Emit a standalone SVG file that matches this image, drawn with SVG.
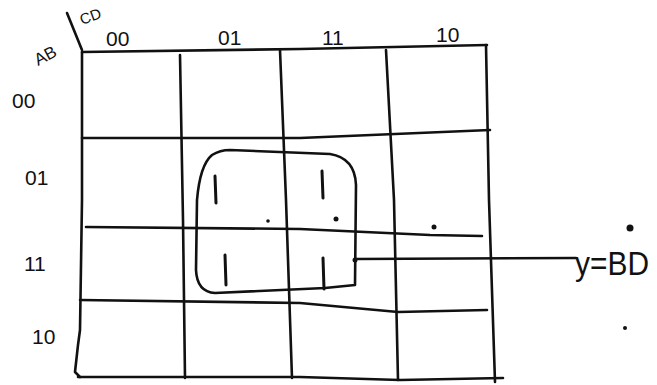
<svg xmlns="http://www.w3.org/2000/svg" width="657" height="385" viewBox="0 0 657 385">
<style>
.ln{fill:none;stroke:#111;stroke-width:2.6;stroke-linecap:round;stroke-linejoin:round}
.t{font-family:"Liberation Sans",Arial,sans-serif;fill:#111}
.h{font-size:21px}
.one{fill:none;stroke:#111;stroke-width:3;stroke-linecap:round}
.dot{fill:#111}
</style>
<rect width="657" height="385" fill="#fff"/>
<g id="grid">
<path class="ln" d="M67,13 L82,50"/>
<path class="ln" d="M82,52 L300,49 L487,45"/>
<path class="ln" d="M82,52 L82,200 L80,330 L78,345 L75,372 L80,377"/>
<path class="ln" d="M180,55 L183,220 L185,378"/>
<path class="ln" d="M280,50 L286,200 L292,378"/>
<path class="ln" d="M386,50 L394,200 L398,380"/>
<path class="ln" d="M486,45 L489,200 L495,382"/>
<path class="ln" d="M82,138 L300,138 L490,130"/>
<path class="ln" d="M86,227 L300,229 L430,235 L482,236"/>
<path class="ln" d="M80,300 L300,303 L398,312 L487,310"/>
<path class="ln" d="M78,377 L300,377 L400,380 L503,378"/>
</g>
<g id="labels">
<text class="t" font-size="15" transform="translate(82,25) rotate(-20)">CD</text>
<text class="t" font-size="17" transform="translate(38,66) rotate(-28)">AB</text>
<text class="t h" x="106" y="46">00</text>
<text class="t h" x="218" y="45">01</text>
<text class="t h" x="322" y="45">11</text>
<text class="t h" x="436" y="42">10</text>
<text class="t h" x="12" y="108">00</text>
<text class="t h" x="25" y="185">01</text>
<text class="t h" x="24" y="271">11</text>
<text class="t h" x="32" y="344">10</text>
</g>
<g id="group">
<path class="ln" d="M230,150 L330,154 Q355,158 356,185 L355,285 L325,288 L215,293 Q197,292 196,270 L197,200 Q200,165 212,155 Q220,150 230,150 Z"/>
</g>
<g id="ones">
<path class="one" d="M215,176 L216,203"/>
<path class="one" d="M322,171 L323,198"/>
<path class="one" d="M225,255 L226,285"/>
<path class="one" d="M323,258 L324,289"/>
</g>
<g id="connectors">
<path class="ln" d="M356,259 L576,258"/>
</g>
<g id="output">
<text class="t" font-size="33" x="575" y="275" textLength="74" lengthAdjust="spacingAndGlyphs">y=BD</text>
<circle class="dot" cx="630" cy="228" r="3.5"/>
</g>
<g id="marks">
<circle class="dot" cx="268" cy="221" r="1.8"/>
<circle class="dot" cx="336" cy="219" r="2.5"/>
<circle class="dot" cx="434" cy="227" r="2.5"/>
<circle class="dot" cx="625" cy="328" r="2"/>
<circle class="dot" cx="355" cy="260" r="2.5"/>
</g>
</svg>
